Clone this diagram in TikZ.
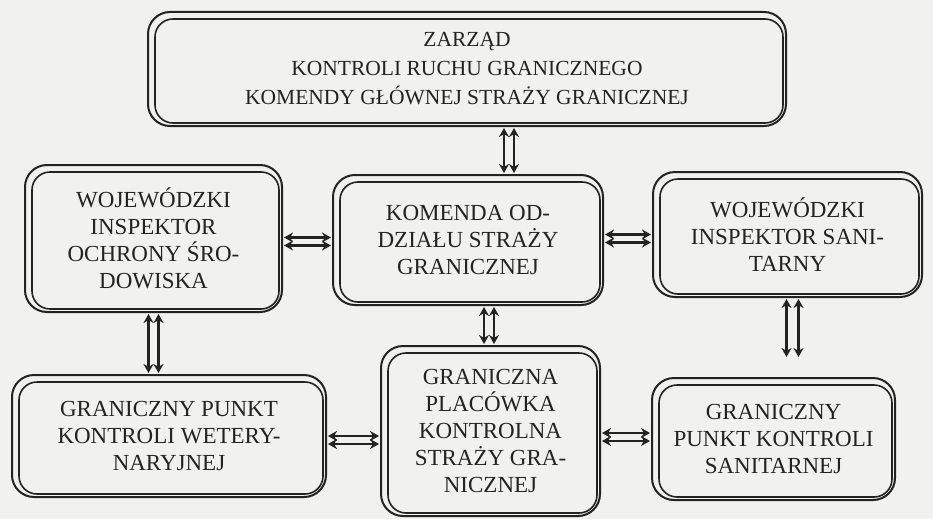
\documentclass[tikz,border=0pt]{standalone}
\usepackage{fontspec}
\setmainfont{Liberation Serif}
\usetikzlibrary{arrows.meta}
\definecolor{paper}{RGB}{241,241,239}
\definecolor{ink}{RGB}{35,35,35}
\begin{document}
\begin{tikzpicture}[x=1pt,y=-1pt,
    box/.style={draw=ink, line width=2pt, rounded corners=22pt, align=center,
                text=ink, inner sep=0pt, font=\fontsize{23}{27}\selectfont},
    link/.style={draw=ink, line width=2.2pt, {Stealth[length=9pt,width=10pt]}-{Stealth[length=9pt,width=10pt]}, shorten >=1pt, shorten <=1pt}]
  \fill[paper] (0,0) rectangle (933,519);
  \useasboundingbox (0,0) rectangle (933,519);

  % boxes
  \node (zarzad) at (467,69) [box, minimum width=638pt, minimum height=114pt, font=\fontsize{21.5}{29}\selectfont]
    {ZARZĄD\\ KONTROLI RUCHU GRANICZNEGO\\ KOMENDY GŁÓWNEJ STRAŻY GRANICZNEJ};
  \node (wios) at (153.5,238.5) [box, minimum width=257pt, minimum height=147pt]
    {WOJEWÓDZKI\\ INSPEKTOR\\ OCHRONY ŚRO-\\ DOWISKA};
  \node (komenda) at (468,240) [box, minimum width=270pt, minimum height=130pt]
    {KOMENDA OD-\\ DZIAŁU STRAŻY\\ GRANICZNEJ};
  \node (wis) at (787.5,234.5) [box, minimum width=269pt, minimum height=125pt]
    {WOJEWÓDZKI\\ INSPEKTOR SANI-\\ TARNY};
  \node (gpkw) at (169,436) [box, minimum width=314pt, minimum height=122pt]
    {GRANICZNY PUNKT\\ KONTROLI WETERY-\\ NARYJNEJ};
  \node (gpk) at (490.5,431) [box, minimum width=219pt, minimum height=170pt]
    {GRANICZNA\\ PLACÓWKA\\ KONTROLNA\\ STRAŻY GRA-\\ NICZNEJ};
  \node (gpks) at (773.5,439) [box, minimum width=243pt, minimum height=122pt]
    {GRANICZNY\\ PUNKT KONTROLI\\ SANITARNEJ};

  % inner lines
  \foreach \n in {zarzad,wios,komenda,wis,gpkw,gpk,gpks}
    \draw[ink, line width=1.6pt, rounded corners=18pt]
      ([shift={(8pt,-8pt)}]\n.north west) rectangle ([shift={(-4pt,4pt)}]\n.south east);

  % connectors
  \draw[link] ([xshift=37pt]zarzad.south) -- ([xshift=37pt]zarzad.south |- komenda.north);
  \draw[link] ([xshift=47pt]zarzad.south) -- ([xshift=47pt]zarzad.south |- komenda.north);
  \draw[link] ([xshift=-5pt]wios.south) -- ([xshift=-5pt]wios.south |- gpkw.north);
  \draw[link] ([xshift=5pt]wios.south) -- ([xshift=5pt]wios.south |- gpkw.north);
  \draw[link] ([xshift=16pt]komenda.south) -- ([xshift=16pt]komenda.south |- gpk.north);
  \draw[link] ([xshift=26pt]komenda.south) -- ([xshift=26pt]komenda.south |- gpk.north);
  \draw[link, shorten >=20pt] ([xshift=-1pt]wis.south) -- ([xshift=-1pt]wis.south |- gpks.north);
  \draw[link, shorten >=20pt] ([xshift=11pt]wis.south) -- ([xshift=11pt]wis.south |- gpks.north);
  \draw[link] ([yshift=1pt]wios.east) -- ([yshift=1pt]wios.east -| komenda.west);
  \draw[link] ([yshift=-7pt]wios.east) -- ([yshift=-7pt]wios.east -| komenda.west);
  \draw[link] ([yshift=0pt]wis.west) -- ([yshift=0pt]wis.west -| komenda.east);
  \draw[link] ([yshift=-8pt]wis.west) -- ([yshift=-8pt]wis.west -| komenda.east);
  \draw[link] ([yshift=0pt]gpkw.east) -- ([yshift=0pt]gpkw.east -| gpk.west);
  \draw[link] ([yshift=-8pt]gpkw.east) -- ([yshift=-8pt]gpkw.east -| gpk.west);
  \draw[link] ([yshift=6pt]gpks.west) -- ([yshift=6pt]gpks.west -| gpk.east);
  \draw[link] ([yshift=-2pt]gpks.west) -- ([yshift=-2pt]gpks.west -| gpk.east);
\end{tikzpicture}
\end{document}
